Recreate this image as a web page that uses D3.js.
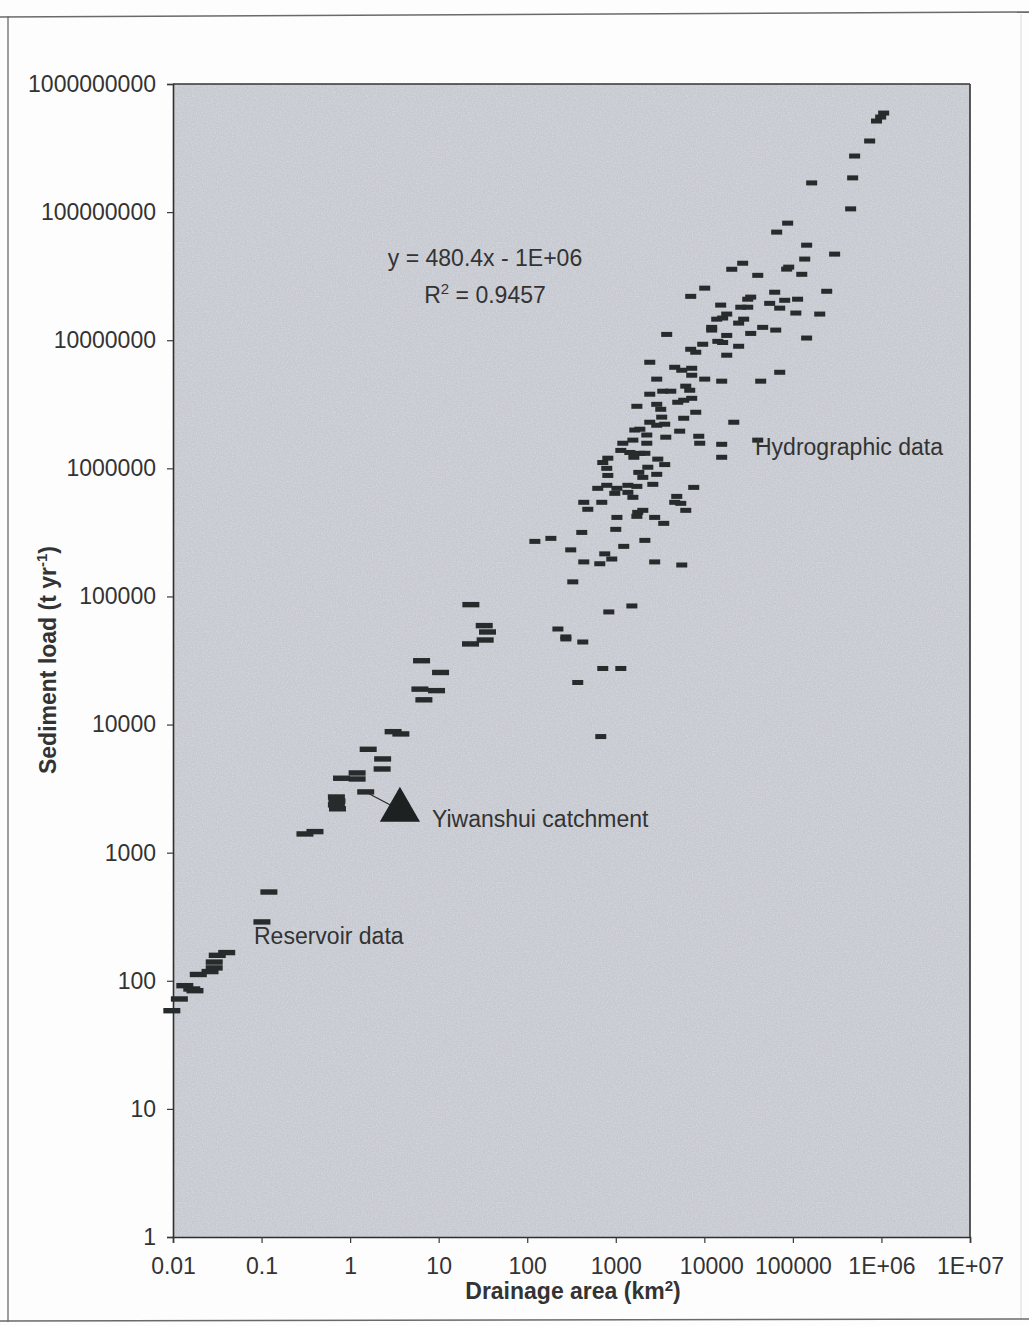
<!DOCTYPE html>
<html>
<head>
<meta charset="utf-8">
<script src="https://cdn.jsdelivr.net/npm/d3@7"></script>
<style>
  html, body { margin: 0; padding: 0; background: #fdfdfd; }
  svg { display: block; font-family: "Liberation Sans", Arial, sans-serif; }
</style>
</head>
<body>
<svg id="chart" width="1029" height="1326"></svg>
<script>
// Axis ticks and labels
const xTickValues = [0.01, 0.1, 1, 10, 100, 1000, 10000, 100000, 1e6, 1e7];
const xTickLabels = ["0.01", "0.1", "1", "10", "100", "1000", "10000", "100000", "1E+06", "1E+07"];
const yTickValues = [1, 10, 100, 1000, 1e4, 1e5, 1e6, 1e7, 1e8, 1e9];
const yTickLabels = ["1", "10", "100", "1000", "10000", "100000", "1000000", "10000000", "100000000", "1000000000"];

// Reservoir data: drainage area (km2) and sediment load (t/yr)
const reservoirArea = [0.0097, 0.0118, 0.0136, 0.0163, 0.0177, 0.0193, 0.0262, 0.0292, 0.0292, 0.0316, 0.0404,
  0.101, 0.121, 0.309, 0.401, 0.70, 0.71, 0.70, 0.72, 0.80, 1.20, 1.20, 1.50, 1.60, 2.33, 2.30, 3.06, 3.74,
  6.41, 10.5, 6.14, 9.46, 6.81, 23.1, 32.7, 35.6, 33.5, 22.9];
const reservoirLoad = [58.4, 72.1, 91.6, 86.3, 83.7, 112, 118, 140, 126, 158, 166,
  288, 493, 1400, 1460, 2720, 2530, 2360, 2200, 3810, 4190, 3760, 2980, 6410, 5390, 4500, 8800, 8450,
  31500, 25500, 18900, 18400, 15600, 86300, 59200, 52800, 45700, 42600];

// Hydrographic station data
const hydroArea = [1.06e6, 0.98e6, 0.88e6, 7.36e5, 4.98e5, 4.73e5, 1.63e5, 4.49e5, 8.73e4, 6.56e4,
  1.43e5, 2.96e5, 1.36e5, 8.51e4, 8.97e4, 1.26e5, 2.71e4, 2.04e4, 4.01e4, 2.41e5,
  6.23e4, 1.01e4, 7.02e3, 8.08e4, 1.13e5, 5.47e4, 7.10e4, 3.34e4, 3.09e4, 1.53e4,
  2.58e4, 3.09e4, 1.08e5, 2.01e5, 1.79e4, 1.38e4, 1.61e4, 2.78e4, 2.44e4, 1.21e4,
  1.21e4, 4.56e4, 6.40e4, 1.79e4, 3.34e4, 3.76e3, 1.43e5, 1.42e4, 1.61e4, 2.44e4,
  9.59e3, 7.02e3, 8.0e3, 1.79e4, 2.42e3, 4.63e3, 5.56e3, 7.2e3, 7.2e3, 7.10e4,
  2.90e3, 1.01e4, 1.57e4, 4.33e4, 6.17e3, 6.84e3, 2.42e3, 3.39e3, 4.18e3, 7.2e3,
  5.85e3, 5.01e3, 1.73e3, 2.90e3, 3.22e3, 8.0e3, 5.85e3, 2.15e4, 2.42e3, 2.90e3,
  3.57e3, 3.30e3, 1.87e3, 1.64e3, 5.27e3, 2.24e3, 3.67e3, 8.65e3, 8.87e3, 1.20e3,
  1.56e3, 2.24e3, 1.57e4, 4.01e4, 1.14e3, 1.44e3, 1.87e3, 2.13e3, 1.60e3, 1.57e4,
  2.98e3, 3.57e3, 813, 713, 791, 2.30e3, 1.82e3, 2.02e3, 2.90e3, 813,
  2.62e3, 7.59e3, 626, 791, 1.03e3, 975, 1.37e3, 1.73e3, 1.37e3, 1.56e3,
  4.88e3, 4.63e3, 5.42e3, 435, 483, 695, 6.17e3, 1.77e3, 2.02e3, 1.73e3,
  1.03e3, 2.75e3, 3.48e3, 413, 1.0e3, 185, 122, 2.13e3, 1.23e3, 310,
  751, 901, 660, 435, 2.75e3, 5.56e3, 327, 1.52e3, 834, 222,
  273, 273, 424, 713, 1.14e3, 372, 677];
const hydroLoad = [5.93e8, 5.52e8, 5.14e8, 3.59e8, 2.74e8, 1.85e8, 1.69e8, 1.06e8, 8.2e7, 6.98e7,
  5.52e7, 4.70e7, 4.30e7, 3.59e7, 3.72e7, 3.27e7, 3.99e7, 3.58e7, 3.21e7, 2.41e7,
  2.37e7, 2.55e7, 2.20e7, 2.05e7, 2.09e7, 1.94e7, 1.78e7, 2.17e7, 2.09e7, 1.88e7,
  1.81e7, 1.81e7, 1.63e7, 1.60e7, 1.60e7, 1.46e7, 1.49e7, 1.46e7, 1.36e7, 1.26e7,
  1.20e7, 1.26e7, 1.20e7, 1.09e7, 1.13e7, 1.11e7, 1.04e7, 9.8e6, 9.6e6, 8.97e6,
  9.3e6, 8.5e6, 8.06e6, 7.64e6, 6.73e6, 6.15e6, 5.83e6, 6.04e6, 5.33e6, 5.62e6,
  4.97e6, 4.97e6, 4.79e6, 4.79e6, 4.38e6, 4.07e6, 3.79e6, 4.00e6, 4.00e6, 3.52e6,
  3.40e6, 3.28e6, 3.05e6, 3.16e6, 2.89e6, 2.74e6, 2.46e6, 2.29e6, 2.29e6, 2.17e6,
  2.21e6, 2.51e6, 2.02e6, 1.99e6, 1.95e6, 1.82e6, 1.75e6, 1.78e6, 1.57e6, 1.57e6,
  1.66e6, 1.57e6, 1.54e6, 1.66e6, 1.38e6, 1.33e6, 1.31e6, 1.31e6, 1.22e6, 1.22e6,
  1.18e6, 1.07e6, 1.20e6, 1.11e6, 1.0e6, 1.02e6, 9.3e5, 8.5e5, 8.98e5, 8.8e5,
  7.5e5, 7.1e5, 6.98e5, 7.37e5, 6.98e5, 6.38e5, 7.37e5, 7.23e5, 6.49e5, 5.94e5,
  6.04e5, 5.43e5, 5.33e5, 5.43e5, 4.79e5, 5.43e5, 4.70e5, 4.53e5, 4.70e5, 4.22e5,
  4.14e5, 4.14e5, 3.72e5, 3.16e5, 3.34e5, 2.84e5, 2.69e5, 2.74e5, 2.46e5, 2.31e5,
  2.15e5, 1.96e5, 1.80e5, 1.86e5, 1.86e5, 1.76e5, 1.30e5, 8.43e4, 7.57e4, 5.57e4,
  4.83e4, 4.66e4, 4.41e4, 2.74e4, 2.74e4, 2.13e4, 8.06e3];

// Yiwanshui catchment and the reservoir site it is linked to
const yiwanshui = { area: 3.65, load: 2150 };
const yiwanshuiLink = { area: 1.50, load: 2980 };

const svg = d3.select("#chart");
const plot = { left: 173, right: 970, top: 84, bottom: 1237 };
const textColor = "#333";
const labelSize = "23px";

const x = d3.scaleLog().domain([0.01, 1e7]).range([plot.left, plot.right]);
const y = d3.scaleLog().domain([1, 1e9]).range([plot.bottom, plot.top]);

// Page frame
const frame = svg.append("g").attr("stroke", "#6a6a6a").attr("fill", "none");
frame.append("line").attr("x1", 0).attr("y1", 17).attr("x2", 1029).attr("y2", 12).attr("stroke-width", 1.6);
frame.append("line").attr("x1", 8).attr("y1", 16).attr("x2", 8).attr("y2", 1322).attr("stroke-width", 1.3);
frame.append("line").attr("x1", 1021).attr("y1", 14).attr("x2", 1021).attr("y2", 1320).attr("stroke-width", 0.8).attr("stroke", "#cfcfcf");
frame.append("line").attr("x1", 0).attr("y1", 1321).attr("x2", 1029).attr("y2", 1319).attr("stroke-width", 1.6);

// Plot area background with paper grain
const defs = svg.append("defs");
const grain = defs.append("filter").attr("id", "grain").attr("x", 0).attr("y", 0).attr("width", "100%").attr("height", "100%");
grain.append("feTurbulence").attr("type", "fractalNoise").attr("baseFrequency", 0.8).attr("numOctaves", 2).attr("seed", 7).attr("result", "noise");
grain.append("feColorMatrix").attr("type", "matrix")
  .attr("values", "0 0 0 0 1  0 0 0 0 1  0 0 0 0 1  0 0 0 -1.4 0.9");

svg.append("rect")
  .attr("x", plot.left).attr("y", plot.top)
  .attr("width", plot.right - plot.left).attr("height", plot.bottom - plot.top)
  .attr("fill", "#c6c9d0");
svg.append("rect")
  .attr("x", plot.left).attr("y", plot.top)
  .attr("width", plot.right - plot.left).attr("height", plot.bottom - plot.top)
  .attr("filter", "url(#grain)").attr("opacity", 0.35);

// Axes
const yAxis = d3.axisLeft(y)
  .tickValues(yTickValues)
  .tickFormat((d, i) => yTickLabels[i])
  .tickSize(6).tickPadding(11);
const xAxis = d3.axisBottom(x)
  .tickValues(xTickValues)
  .tickFormat((d, i) => xTickLabels[i])
  .tickSize(6).tickPadding(15);

const gy = svg.append("g").attr("transform", `translate(${plot.left},0)`).call(yAxis);
const gx = svg.append("g").attr("transform", `translate(0,${plot.bottom})`).call(xAxis);
[gx, gy].forEach(g => {
  g.select(".domain").attr("stroke", "#2e2e2e").attr("stroke-width", 1.6);
  g.selectAll(".tick line").attr("stroke", "#3a3a3a").attr("stroke-width", 1.2);
  g.selectAll(".tick text").attr("fill", textColor).style("font-size", labelSize)
    .style("font-family", "'Liberation Sans', Arial, sans-serif");
});
// The 10000 label sits a little right of its tick, clear of the title's superscript
gx.selectAll(".tick text").filter((d) => d === 10000).attr("dx", 7);

// Top and right border of the plot area
svg.append("line").attr("x1", plot.left).attr("x2", plot.right).attr("y1", plot.top).attr("y2", plot.top)
  .attr("stroke", "#333").attr("stroke-width", 1.6);
svg.append("line").attr("x1", plot.right).attr("x2", plot.right).attr("y1", plot.top).attr("y2", plot.bottom)
  .attr("stroke", "#333").attr("stroke-width", 1.6);

const markColor = "#272b2c";

// Reservoir markers (wide dashes)
const reservoir = reservoirArea.map((a, i) => ({ area: a, load: reservoirLoad[i] }));
svg.append("g").selectAll("rect").data(reservoir).join("rect")
  .attr("x", d => x(d.area) - 8.5).attr("y", d => y(d.load) - 2.7)
  .attr("width", 17).attr("height", 5.4).attr("fill", markColor);

// Hydrographic markers (short dashes)
const hydro = hydroArea.map((a, i) => ({ area: a, load: hydroLoad[i] }));
svg.append("g").selectAll("rect").data(hydro).join("rect")
  .attr("x", d => x(d.area) - 5.5).attr("y", d => y(d.load) - 2.5)
  .attr("width", 11).attr("height", 5).attr("fill", markColor);

// Yiwanshui catchment: leader line and triangle
svg.append("line")
  .attr("x1", x(yiwanshuiLink.area)).attr("y1", y(yiwanshuiLink.load))
  .attr("x2", x(yiwanshui.area)).attr("y2", y(yiwanshui.load))
  .attr("stroke", "#2a2a2a").attr("stroke-width", 1.2);
svg.append("path")
  .attr("d", d3.symbol(d3.symbolTriangle, 700)())
  .attr("transform", `translate(${x(yiwanshui.area)},${y(yiwanshui.load)})`)
  .attr("fill", "#1e2122");

// Annotations
const note = (tx, ty, anchor) => svg.append("text").attr("x", tx).attr("y", ty)
  .attr("text-anchor", anchor).attr("fill", textColor).style("font-size", labelSize);

note(485, 266, "middle").text("y = 480.4x - 1E+06");
const r2 = note(485, 303, "middle");
r2.append("tspan").text("R");
r2.append("tspan").attr("dy", -9).style("font-size", "15px").text("2");
r2.append("tspan").attr("dy", 9).text(" = 0.9457");

note(755, 455, "start").text("Hydrographic data");
note(432, 827, "start").text("Yiwanshui catchment");
note(254, 944, "start").text("Reservoir data");

// Axis titles
const xt = svg.append("text").attr("x", 573).attr("y", 1299).attr("text-anchor", "middle")
  .attr("fill", textColor).style("font-size", labelSize).style("font-weight", "bold");
xt.append("tspan").text("Drainage area (km");
xt.append("tspan").attr("dy", -8).style("font-size", "15px").text("2");
xt.append("tspan").attr("dy", 8).text(")");

const yt = svg.append("text").attr("transform", "translate(56,660) rotate(-90)").attr("text-anchor", "middle")
  .attr("fill", textColor).style("font-size", labelSize).style("font-weight", "bold");
yt.append("tspan").text("Sediment load (t yr");
yt.append("tspan").attr("dy", -9).style("font-size", "15px").text("-1");
yt.append("tspan").attr("dy", 9).text(")");
</script>
</body>
</html>
